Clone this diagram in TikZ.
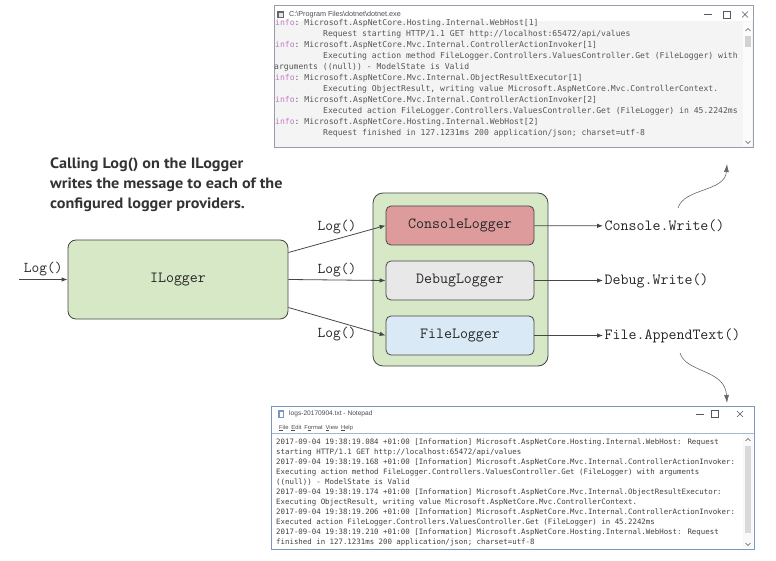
\documentclass[tikz,border=0pt]{standalone}
\usepackage{fontspec}
\setmainfont{PT Sans}
\newfontfamily\notefont{PT Sans}[FakeStretch=1.08]
\newfontfamily\uifont{Liberation Sans}
\newfontfamily\logfont{DejaVu Sans Mono}
\usepackage{tikz}
\usetikzlibrary{positioning,arrows.meta}
\definecolor{boxgreen}{RGB}{214,232,198}
\definecolor{boxred}{RGB}{221,155,155}
\definecolor{boxgray}{RGB}{232,232,232}
\definecolor{boxblue}{RGB}{217,233,245}
\definecolor{linegray}{RGB}{70,70,70}
\definecolor{infopink}{RGB}{196,120,196}
\definecolor{logtext}{RGB}{85,85,85}
\definecolor{winedge}{RGB}{150,158,172}
\definecolor{padedge}{RGB}{125,150,190}
\newcommand{\infotag}{\textcolor{infopink}{info}:}

\begin{document}
\begin{tikzpicture}[x=1pt,y=-1pt,
  logger/.style={draw=linegray, line width=0.8pt, rounded corners=5pt, minimum width=148pt, minimum height=39pt, font=\ttfamily\fontsize{15.5}{16}\selectfont, text=black!85},
  holder/.style={draw=linegray, line width=0.8pt, rounded corners=10pt, fill=boxgreen},
  call/.style={font=\ttfamily\fontsize{15}{16}\selectfont, text=black!85, inner sep=2pt},
  sink/.style={font=\ttfamily\fontsize{15.5}{16}\selectfont, text=black!85, anchor=west, inner sep=1.5pt},
  flow/.style={-{Latex[length=6pt,width=4.5pt]}, draw=linegray, line width=0.8pt},
  hint/.style={-{Latex[length=8pt,width=5pt]}, draw=black!60, line width=0.6pt},
  winframe/.style={draw=winedge, line width=0.8pt},
  conline/.style={anchor=west, inner sep=0pt, font=\logfont\fontsize{8.1}{9}\selectfont, text=logtext},
  padline/.style={anchor=west, inner sep=0pt, font=\logfont\fontsize{7.4}{8}\selectfont, text=black!75},
  wintitle/.style={anchor=west, inner sep=0pt, font=\uifont\fontsize{6.6}{7}\selectfont, text=black!70},
  winctl/.style={draw=black!65, line width=0.6pt},
]
\useasboundingbox (0,0) rectangle (776,561);

% console window
\fill[white] (274,5) rectangle (753,21);
\fill[gray!9] (274,21) rectangle (753,147);
\fill[gray!3] (743,22) rectangle (752,146);
\fill[gray!35] (744.5,36) rectangle (751,47);
\draw[winctl] (745.5,31) -- (748,28.5) -- (750.5,31);
\draw[winctl] (745.5,141) -- (748,143.5) -- (750.5,141);
\draw[winframe] (274,5) rectangle (753,147);
\fill[black!60] (277,11) rectangle (284,18);
\fill[gray!20] (278.5,13) rectangle (282.5,17);
\node[wintitle, font=\uifont\fontsize{7.2}{8}\selectfont] (contitle) at (289,15) {C:\textbackslash Program Files\textbackslash dotnet\textbackslash dotnet.exe};
\draw[winctl] (704,14.5) -- (712,14.5);
\draw[winctl] (723.5,11) rectangle (730.5,18);
\draw[winctl] (742,11.5) -- (748,17.5) (742,17.5) -- (748,11.5);
\foreach \x/\t [count=\i] in {
  275/{\infotag\ Microsoft.AspNetCore.Hosting.Internal.WebHost[1]},
  323/{Request starting HTTP/1.1 GET http://localhost:65472/api/values},
  275/{\infotag\ Microsoft.AspNetCore.Mvc.Internal.ControllerActionInvoker[1]},
  323/{Executing action method FileLogger.Controllers.ValuesController.Get (FileLogger) with},
  274/{arguments ((null)) - ModelState is Valid},
  275/{\infotag\ Microsoft.AspNetCore.Mvc.Internal.ObjectResultExecutor[1]},
  323/{Executing ObjectResult, writing value Microsoft.AspNetCore.Mvc.ControllerContext.},
  275/{\infotag\ Microsoft.AspNetCore.Mvc.Internal.ControllerActionInvoker[2]},
  323/{Executed action FileLogger.Controllers.ValuesController.Get (FileLogger) in 45.2242ms},
  275/{\infotag\ Microsoft.AspNetCore.Hosting.Internal.WebHost[2]},
  323/{Request finished in 127.1231ms 200 application/json; charset=utf-8}}
  \node[conline] (cl\i) at (\x,{12+11*\i}) {\t};

% notepad window
\fill[white] (271,406) rectangle (754,549);
\fill[gray!5] (743,434) rectangle (753,548);
\fill[gray!30] (745,446) rectangle (751,533);
\draw[winctl] (745.5,441) -- (748,438.5) -- (750.5,441);
\draw[winctl] (745.5,543) -- (748,545.5) -- (750.5,543);
\draw[padedge!70] (271,433) -- (754,433);
\draw[draw=padedge, line width=0.8pt] (271,406) rectangle (754,549);
\fill[padedge] (278,410) rectangle (284,418);
\fill[white] (279.5,412) rectangle (283,417);
\node[wintitle] (padtitle) at (289,414) {logs-20170904.txt - Notepad};
\node[wintitle, font=\uifont\fontsize{5.8}{7}\selectfont] (padmenu) at (279,428) {\underline{F}ile\enspace \underline{E}dit\enspace F\underline{o}rmat\enspace \underline{V}iew\enspace \underline{H}elp};
\draw[winctl] (696,414) -- (704,414);
\draw[winctl] (711.5,410.5) rectangle (718.5,417.5);
\draw[winctl] (737,411) -- (743,417) (737,417) -- (743,411);
\foreach \t [count=\i] in {
  {2017-09-04 19:38:19.084 +01:00 [Information] Microsoft.AspNetCore.Hosting.Internal.WebHost: Request},
  {starting HTTP/1.1 GET http://localhost:65472/api/values},
  {2017-09-04 19:38:19.168 +01:00 [Information] Microsoft.AspNetCore.Mvc.Internal.ControllerActionInvoker:},
  {Executing action method FileLogger.Controllers.ValuesController.Get (FileLogger) with arguments},
  {((null)) - ModelState is Valid},
  {2017-09-04 19:38:19.174 +01:00 [Information] Microsoft.AspNetCore.Mvc.Internal.ObjectResultExecutor:},
  {Executing ObjectResult, writing value Microsoft.AspNetCore.Mvc.ControllerContext.},
  {2017-09-04 19:38:19.206 +01:00 [Information] Microsoft.AspNetCore.Mvc.Internal.ControllerActionInvoker:},
  {Executed action FileLogger.Controllers.ValuesController.Get (FileLogger) in 45.2242ms},
  {2017-09-04 19:38:19.210 +01:00 [Information] Microsoft.AspNetCore.Hosting.Internal.WebHost: Request},
  {finished in 127.1231ms 200 application/json; charset=utf-8}}
  \node[padline] (pl\i) at (276,{432+10*\i}) {\t};

% note
\node[anchor=north west, inner sep=0pt, align=left, text=black!80, font=\notefont\bfseries\fontsize{15}{20}\selectfont] (note) at (50,158) {Calling Log() on the ILogger\\writes the message to each of the\\configured logger providers.};

% loggers
\node[holder, minimum width=175pt, minimum height=173pt] (grp) at (460.5,279.5) {};
\node[logger, fill=boxgreen, minimum width=220pt, minimum height=79pt, rounded corners=8pt] (ilog) at (178,279.5) {ILogger};
\node[logger, fill=boxred] (conlog) at (460,225.5) {ConsoleLogger};
\node[logger, fill=boxgray] (dbglog) at (460,280.5) {DebugLogger};
\node[logger, fill=boxblue] (filelog) at (460,335.5) {FileLogger};

\coordinate (in) at (19,279.5);
\draw[flow] (in) -- node[call, above=1pt] (login) {Log()} (ilog);
\draw[flow] ([yshift=27pt]ilog.east) -- node[call, above=3pt] (logcon) {Log()} (conlog.west);
\draw[flow] (ilog.east) -- node[call, above=1pt] (logdbg) {Log()} (dbglog.west);
\draw[flow] ([yshift=-28pt]ilog.east) -- node[call, below=3pt] (logfile) {Log()} (filelog.west);

\node[sink] (cw) at (603,226) {Console.Write()};
\node[sink] (dw) at (603,280.5) {Debug.Write()};
\node[sink] (fw) at (603,335.5) {File.AppendText()};
\draw[flow] (conlog) -- (cw);
\draw[flow] (dbglog) -- (dw);
\draw[flow] (filelog) -- (fw);

% hints
\coordinate (upfrom) at (678,208);
\coordinate (upto) at (727,164);
\draw[hint] (upfrom) .. controls (684,188) and (725,192) .. (upto);
\coordinate (downfrom) at (680,353);
\coordinate (downto) at (727,403);
\draw[hint] (downfrom) .. controls (686,373) and (725,369) .. (downto);
\end{tikzpicture}
\end{document}
